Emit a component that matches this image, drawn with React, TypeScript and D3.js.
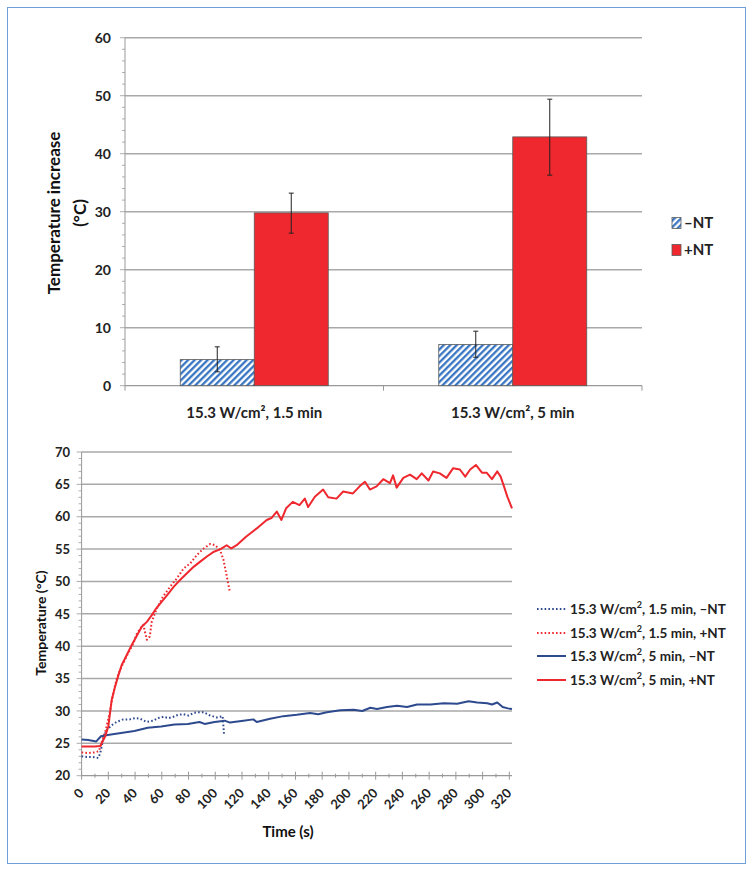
import React from "react";
import * as d3 from "d3";

// ---- bar chart data ----
const categories = ["15.3 W/cm², 1.5 min", "15.3 W/cm², 5 min"];
const barSeries = ["–NT", "+NT"];
const meanMinus = [4.5, 7.1];
const lowMinus = [2.4, 4.9];
const highMinus = [6.7, 9.4];
const meanPlus = [29.8, 42.9];
const lowPlus = [26.3, 36.3];
const highPlus = [33.2, 49.4];
const barTicks = [0, 10, 20, 30, 40, 50, 60];

// ---- time course data ----
const tPlus5 = [0, 5, 10, 14, 17.5, 20, 22.5, 25, 27.5, 30, 33.7, 37.5, 41, 45, 49, 52.5, 56, 60, 64, 69, 74, 79, 84, 89, 94, 99, 104, 108.5, 112, 116, 123, 131, 138.5, 142, 146, 149.5, 153, 158, 163, 167, 169.5, 174.5, 180.7, 184.5, 190.7, 195.7, 203, 208, 212, 215.7, 220.7, 225.7, 230.7, 233, 235.7, 240.7, 245.7, 250.7, 254.5, 259.5, 263, 268, 273, 278, 283, 287, 290.7, 295, 299.5, 303, 307, 311, 313.5, 316, 318.5, 322];
const vPlus5 = [24.5, 24.5, 24.5, 24.6, 26.0, 27.6, 31.7, 33.7, 35.5, 37.1, 38.6, 40.2, 41.5, 43.0, 43.8, 44.8, 45.9, 46.9, 47.9, 49.2, 50.3, 51.3, 52.3, 53.1, 53.9, 54.6, 55.0, 55.6, 55.1, 55.6, 56.9, 58.2, 59.5, 59.8, 60.8, 59.5, 61.3, 62.3, 61.8, 62.8, 61.5, 63.1, 64.2, 63.0, 62.8, 63.9, 63.6, 64.7, 65.4, 64.2, 64.7, 65.8, 65.2, 66.4, 64.5, 66.0, 66.5, 65.8, 66.7, 65.6, 67.0, 66.7, 66.0, 67.5, 67.3, 66.2, 67.3, 68.0, 66.8, 66.8, 65.8, 67.0, 66.2, 64.7, 63.1, 61.3];

const tPlus15 = [0, 5, 10, 13, 15.5, 18, 21, 23.5, 26, 28.5, 31, 35, 38.7, 41, 43.7, 46.2, 48.8, 51, 52.5, 56, 61, 66.3, 71.3, 76.3, 81.3, 86.3, 91.3, 96.3, 100, 103.7, 106.2, 108.7, 110.7];
const vPlus15 = [23.6, 23.5, 23.6, 23.8, 25.5, 27.0, 29.7, 32.5, 34.8, 36.2, 37.3, 39.0, 40.4, 41.8, 42.7, 43.3, 41.0, 41.5, 43.8, 45.7, 47.7, 49.2, 50.5, 52.0, 52.8, 54.1, 55.1, 55.8, 55.6, 54.8, 53.3, 50.7, 48.6];

const tMinus15 = [0, 4, 8, 12.5, 14, 16, 18.5, 22.5, 26.2, 31.2, 36, 40, 43.7, 48.7, 53.7, 57, 61.2, 65, 68.7, 72, 76.2, 80, 83.7, 87, 91.2, 96.2, 101.2, 105.5, 106.5];
const vMinus15 = [23.0, 22.9, 22.9, 22.75, 23.5, 25.5, 27.0, 27.8, 28.3, 28.7, 28.7, 28.9, 28.8, 28.3, 28.5, 28.9, 29.1, 28.9, 29.1, 29.4, 29.5, 29.3, 29.7, 29.8, 29.8, 29.3, 29.0, 29.2, 26.5];

const tMinus5 = [0, 5, 11, 14.5, 19.5, 29.5, 39.5, 49.5, 59.5, 69.5, 79.5, 88.2, 92, 99.5, 107, 111, 121, 128.5, 131, 141, 151, 161, 171, 177, 183.5, 193.5, 203.5, 210, 216, 221, 228.5, 236, 243.5, 251, 261, 271, 281, 289.5, 296, 303.5, 307, 311, 315, 319, 322];
const vMinus5 = [25.6, 25.5, 25.3, 26.1, 26.3, 26.6, 26.9, 27.4, 27.6, 27.9, 28.0, 28.3, 28.0, 28.3, 28.5, 28.2, 28.5, 28.7, 28.3, 28.8, 29.2, 29.4, 29.7, 29.5, 29.8, 30.1, 30.2, 30.0, 30.5, 30.3, 30.6, 30.8, 30.6, 31.0, 31.0, 31.2, 31.1, 31.5, 31.3, 31.2, 31.0, 31.3, 30.6, 30.4, 30.3];

const lineLabels = [
  ["15.3 W/cm", ", 1.5 min, –NT"],
  ["15.3 W/cm", ", 1.5 min, +NT"],
  ["15.3 W/cm", ", 5 min, –NT"],
  ["15.3 W/cm", ", 5 min, +NT"],
];
const timeTicks = d3.range(0, 321, 20);
const tempTicks = d3.range(20, 71, 5);

const RED = "#ee282e";
const NAVY = "#2e4a8e";
const GRID = "#a9a9a9";
const FONT = "Lato, 'Open Sans', sans-serif";

export default function App() {
  // top chart scales
  const yBar = d3.scaleLinear().domain([0, 60]).range([385.7, 37.7]);
  const xBand = d3.scaleBand<string>().domain(categories).range([125, 642]);
  const inner = d3.scaleBand<string>().domain(barSeries).range([-74, 74]);

  // bottom chart scales
  const xT = d3.scaleLinear().domain([0, 322]).range([81.6, 512]);
  const yT = d3.scaleLinear().domain([20, 70]).range([775.7, 452]);
  const line = d3
    .line<[number, number]>()
    .x((d) => xT(d[0]))
    .y((d) => yT(d[1]))
    .curve(d3.curveLinear);
  const zip = (a: number[], b: number[]) => a.map((t, i) => [t, b[i]] as [number, number]);

  const series = [
    { d: zip(tMinus15, vMinus15), color: NAVY, dash: "1.6 2.2" },
    { d: zip(tPlus15, vPlus15), color: RED, dash: "1.6 2.2" },
    { d: zip(tMinus5, vMinus5), color: NAVY, dash: undefined },
    { d: zip(tPlus5, vPlus5), color: RED, dash: undefined },
  ];

  const barRows = [
    { mean: meanMinus, low: lowMinus, high: highMinus, fill: "url(#hatch)", key: barSeries[0] },
    { mean: meanPlus, low: lowPlus, high: highPlus, fill: RED, key: barSeries[1] },
  ];

  const legendY = [609, 633, 656, 680];

  return (
    <svg
      width={752}
      height={871}
      style={{ position: "absolute", left: 0, top: 0, background: "#fff" }}
      fontFamily={FONT}
      fontWeight="bold"
    >
      <defs>
        <pattern id="hatch" patternUnits="userSpaceOnUse" width={4.6} height={4.6} patternTransform="rotate(45)">
          <rect width={4.6} height={4.6} fill="#fff" />
          <line x1={1.2} y1={0} x2={1.2} y2={4.6} stroke="#2f6fc0" strokeWidth={2.2} />
        </pattern>
      </defs>
      <rect x={7.5} y={7.5} width={738} height={856} fill="none" stroke="#6fa0d8" strokeWidth={1} />

      {/* ---------- top bar chart ---------- */}
      {barTicks.slice(1).map((v) => (
        <line key={v} x1={125} x2={642} y1={yBar(v)} y2={yBar(v)} stroke={GRID} strokeWidth={1.5} />
      ))}
      {d3.range(0, 61, 2).map((v) => (
        <line key={"m" + v} x1={v % 10 === 0 ? 120 : 122} x2={125} y1={yBar(v)} y2={yBar(v)} stroke="#999" strokeWidth={0.8} />
      ))}
      <line x1={125} x2={125} y1={yBar(60)} y2={yBar(0)} stroke="#999" strokeWidth={1} />
      <line x1={125} x2={642} y1={yBar(0)} y2={yBar(0)} stroke="#999" strokeWidth={1.2} />
      {[125, (125 + 642) / 2, 642].map((x) => (
        <line key={x} x1={x} x2={x} y1={yBar(0)} y2={yBar(0) + 5} stroke="#999" strokeWidth={1} />
      ))}
      {barTicks.map((v) => (
        <text key={v} x={111} y={yBar(v)} dy="0.36em" textAnchor="end" fontSize={14} fill="#222">
          {v}
        </text>
      ))}
      <text transform="translate(60,213) rotate(-90)" textAnchor="middle" fontSize={17} fill="#111">
        Temperature increase
      </text>
      <text transform="translate(86,213) rotate(-90)" textAnchor="middle" fontSize={17} fill="#111">
        (°C)
      </text>

      {barRows.map((r) =>
        categories.map((c, i) => {
          const x0 = xBand(c)! + xBand.bandwidth() / 2 + inner(r.key)!;
          const w = inner.bandwidth();
          const cx = x0 + w / 2;
          return (
            <g key={r.key + c}>
              <rect
                x={x0}
                y={yBar(r.mean[i])}
                width={w}
                height={yBar(0) - yBar(r.mean[i])}
                fill={r.fill}
                stroke="#5a5a5a"
                strokeWidth={0.8}
              />
              <line x1={cx} x2={cx} y1={yBar(r.low[i])} y2={yBar(r.high[i])} stroke="#222" strokeWidth={1} />
              <line x1={cx - 2.5} x2={cx + 2.5} y1={yBar(r.low[i])} y2={yBar(r.low[i])} stroke="#222" strokeWidth={1} />
              <line x1={cx - 2.5} x2={cx + 2.5} y1={yBar(r.high[i])} y2={yBar(r.high[i])} stroke="#222" strokeWidth={1} />
            </g>
          );
        })
      )}
      {categories.map((c) => (
        <text key={c} x={xBand(c)! + xBand.bandwidth() / 2} y={418} textAnchor="middle" fontSize={15} fill="#222">
          {c}
        </text>
      ))}
      {/* top legend */}
      <rect x={672} y={217.5} width={9} height={11} fill="url(#hatch)" stroke="#5a5a5a" strokeWidth={0.8} />
      <text x={684} y={228} fontSize={15} fill="#222">
        {barSeries[0]}
      </text>
      <rect x={672} y={244.5} width={9} height={11} fill={RED} stroke="#5a5a5a" strokeWidth={0.8} />
      <text x={684} y={255} fontSize={15} fill="#222">
        {barSeries[1]}
      </text>

      {/* ---------- bottom line chart ---------- */}
      {tempTicks.slice(1).map((v) => (
        <line key={v} x1={xT(0)} x2={512} y1={yT(v)} y2={yT(v)} stroke={GRID} strokeWidth={1.5} />
      ))}
      {d3.range(20, 71, 1).map((v) => (
        <line key={"ym" + v} x1={v % 5 === 0 ? xT(0) - 5 : xT(0) - 3} x2={xT(0)} y1={yT(v)} y2={yT(v)} stroke="#999" strokeWidth={0.8} />
      ))}
      <line x1={xT(0)} x2={xT(0)} y1={yT(70)} y2={yT(20)} stroke="#999" strokeWidth={1} />
      <line x1={xT(0)} x2={512} y1={yT(20)} y2={yT(20)} stroke="#999" strokeWidth={1.2} />
      {d3.range(0, 321, 10).map((t) => (
        <line
          key={"xt" + t}
          x1={xT(t)}
          x2={xT(t)}
          y1={yT(20) - (t % 20 === 0 ? 4 : 2)}
          y2={yT(20) + (t % 20 === 0 ? 4 : 2)}
          stroke="#999"
          strokeWidth={1}
        />
      ))}
      {tempTicks.map((v) => (
        <text key={v} x={70} y={yT(v)} dy="0.36em" textAnchor="end" fontSize={13} fill="#222">
          {v}
        </text>
      ))}
      {timeTicks.map((t) => (
        <text
          key={t}
          transform={`translate(${xT(t) + 3},${794}) rotate(-45)`}
          textAnchor="end"
          fontSize={13}
          fill="#222"
        >
          {t}
        </text>
      ))}
      <text transform="translate(46,623) rotate(-90)" textAnchor="middle" fontSize={14} fill="#111">
        Temperature (°C)
      </text>
      <text x={288} y={837} textAnchor="middle" fontSize={15} fill="#111">
        Time (s)
      </text>

      {series.map((s, i) => (
        <path
          key={i}
          d={line(s.d) || ""}
          fill="none"
          stroke={s.color}
          strokeWidth={2}
          strokeDasharray={s.dash}
          strokeLinejoin="round"
        />
      ))}

      {/* bottom legend */}
      {series.map((s, i) => (
        <g key={"lg" + i}>
          <line x1={537} x2={566} y1={legendY[i]} y2={legendY[i]} stroke={s.color} strokeWidth={2} strokeDasharray={s.dash} />
          <text x={570} y={legendY[i] + 5} fontSize={13.5} fill="#222">
            {lineLabels[i][0]}
            <tspan dy={-6} fontSize={9}>
              2
            </tspan>
            <tspan dy={6}>{lineLabels[i][1]}</tspan>
          </text>
        </g>
      ))}
    </svg>
  );
}
